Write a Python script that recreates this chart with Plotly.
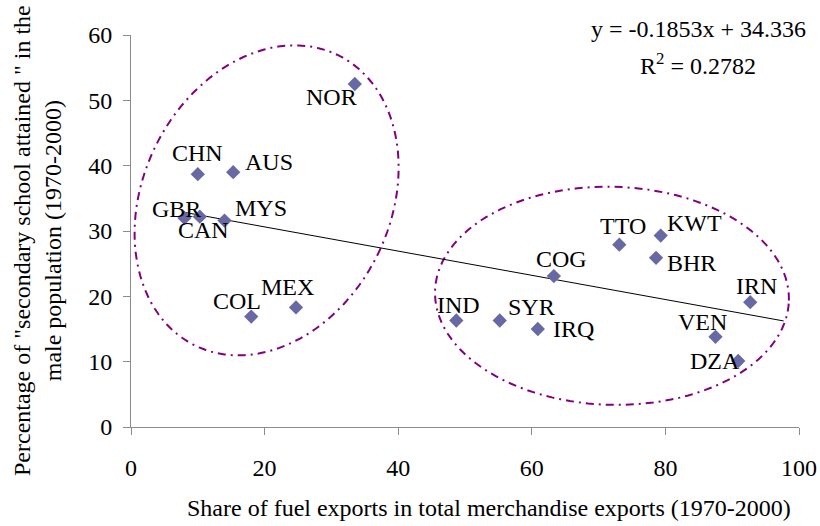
import numpy as np
import plotly.graph_objects as go

# ---- data ----
countries = ["NOR", "CHN", "AUS", "GBR", "CAN", "MYS", "COL", "MEX",
             "IND", "SYR", "IRQ", "COG", "TTO", "KWT", "BHR", "IRN", "VEN", "DZA"]
fuel_share = [33.5, 10.0, 15.3, 8.0, 10.3, 14.0, 18.0, 24.7,
              48.7, 55.2, 60.9, 63.3, 73.1, 79.3, 78.6, 92.7, 87.5, 90.9]
secondary = [52.5, 38.7, 39.0, 32.0, 32.2, 31.6, 16.9, 18.3,
             16.3, 16.3, 15.0, 23.1, 27.9, 29.3, 25.9, 19.1, 13.8, 10.1]
# label offsets in pixels (dx, dy up)
label_dx = [-23, 0, 36, -8, 4, 36, -14, -9, 2, 32, 36, 8, 4, 34, 35, 6, -13, -23]
label_dy = [-13, 21, 10, 9, -13, 13, 16, 20, 16, 14, 0, 17, 19, 13, -5, 16, 15, 0]

slope, intercept, r2 = -0.1853, 34.336, 0.2782
trend_end = 97.7

x_ticks = [0, 20, 40, 60, 80, 100]
y_ticks = [0, 10, 20, 30, 40, 50, 60]

# ---- layout geometry ----
W, H = 820, 526
ML, MR, MT, MB = 131, 21, 35, 99
XR = [0, 100]
YR = [0, 60]
kx = (W - ML - MR) / (XR[1] - XR[0])
ky = (H - MT - MB) / (YR[1] - YR[0])

FONT = "Liberation Serif"
FS = 24


def ellipse_path(cx, cy, a_px, b_px, angle_deg, n=120):
    t = np.linspace(0, 2 * np.pi, n)
    ang = np.deg2rad(angle_deg)
    ux, uy = np.cos(ang), np.sin(ang)
    vx, vy = -np.sin(ang), np.cos(ang)
    px = a_px * np.cos(t) * ux + b_px * np.sin(t) * vx
    py = a_px * np.cos(t) * uy + b_px * np.sin(t) * vy
    xs = cx + px / kx
    ys = cy + py / ky
    pts = [f"{x:.3f},{y:.3f}" for x, y in zip(xs, ys)]
    return "M " + " L ".join(pts) + " Z"


fig = go.Figure()

# trend line
tx = [min(fuel_share), trend_end]
ty = [slope * v + intercept for v in tx]
fig.add_trace(go.Scatter(x=tx, y=ty, mode="lines",
                         line=dict(color="black", width=1), hoverinfo="skip",
                         showlegend=False))

fig.add_trace(go.Scatter(x=fuel_share, y=secondary, mode="markers",
                         marker=dict(symbol="diamond", size=11, color="#6868A4",
                                     line=dict(width=0)),
                         text=countries, showlegend=False))

for c, x, y, dx, dy in zip(countries, fuel_share, secondary, label_dx, label_dy):
    fig.add_annotation(x=x, y=y, text=c, showarrow=False, xshift=dx, yshift=dy,
                       xanchor="center", yanchor="middle",
                       font=dict(family=FONT, size=FS, color="black"))

# ellipses (dash-dot)
ell_style = dict(color="#800080", width=2, dash="8px,5px,2px,5px")
fig.add_shape(type="path", xref="x", yref="y",
              path=ellipse_path(20.3, 34.69, 123.6, 161.8, -26.4),
              line=ell_style, fillcolor="rgba(0,0,0,0)", layer="below")
fig.add_shape(type="path", xref="x", yref="y",
              path=ellipse_path(72.0, 20.08, 177, 109, -1.5),
              line=ell_style, fillcolor="rgba(0,0,0,0)", layer="below")

# equation
fig.add_annotation(xref="paper", yref="paper", x=(698 - ML) / (W - ML - MR),
                   y=1 + 6 / (H - MT - MB), text=f"y = {slope}x + {intercept}",
                   showarrow=False, xanchor="center", yanchor="middle",
                   font=dict(family=FONT, size=FS, color="black"))
fig.add_annotation(xref="paper", yref="paper", x=(698 - ML) / (W - ML - MR),
                   y=1 - 29 / (H - MT - MB), text=f"R<sup>2</sup> = {r2}",
                   showarrow=False, xanchor="center", yanchor="middle",
                   font=dict(family=FONT, size=FS, color="black"))

# axis titles
fig.add_annotation(xref="paper", yref="paper", x=(489 - ML) / (W - ML - MR),
                   y=-(508 - (H - MB)) / (H - MT - MB),
                   text="Share of fuel exports in total merchandise exports (1970-2000)",
                   showarrow=False, xanchor="center", yanchor="middle",
                   font=dict(family=FONT, size=FS, color="black"))
fig.add_annotation(xref="paper", yref="paper", x=(37 - ML) / (W - ML - MR),
                   y=((H - MB) - 241) / (H - MT - MB),
                   text='Percentage of "secondary school attained " in the<br>male population (1970-2000)',
                   showarrow=False, xanchor="center", yanchor="middle", textangle=-90,
                   font=dict(family=FONT, size=FS, color="black"))

axis_common = dict(showgrid=False, zeroline=False, showline=True, linecolor="#8c8c8c",
                   linewidth=1, ticks="outside", ticklen=7, tickcolor="#8c8c8c",
                   automargin=False,
                   tickfont=dict(family=FONT, size=FS, color="black"))
fig.update_xaxes(range=XR, tickvals=x_ticks, ticklabelstandoff=12, **axis_common)
fig.update_yaxes(range=YR, tickvals=y_ticks, ticklabelstandoff=6, **axis_common)

fig.update_layout(width=W, height=H, margin=dict(l=ML, r=MR, t=MT, b=MB),
                  autosize=False,
                  plot_bgcolor="white", paper_bgcolor="white", showlegend=False,
                  font=dict(family=FONT))

fig.write_html("out.html",
               config={"displayModeBar": False, "responsive": False},
               default_width=f"{W}px", default_height=f"{H}px",
               post_script="document.body.style.margin='0';document.body.style.overflow='hidden';")
